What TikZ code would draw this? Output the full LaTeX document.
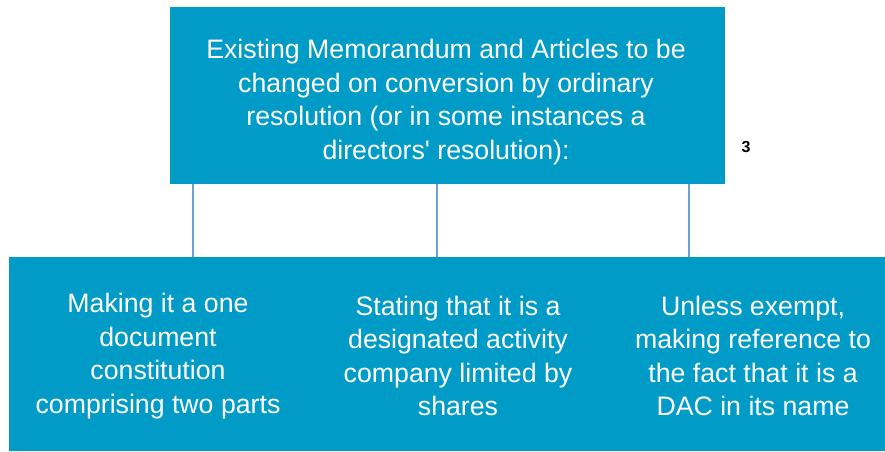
\documentclass[tikz,border=0pt]{standalone}
\usepackage{fontspec}
\setmainfont{Liberation Sans}[Ligatures=TeXOff]
\definecolor{boxblue}{RGB}{0,155,199}
\definecolor{linkblue}{RGB}{110,160,215}
\begin{document}
\begin{tikzpicture}[x=1pt,y=1pt,
  panel/.style={fill=boxblue, draw=none, inner sep=0pt},
  label/.style={text=white, align=center, font=\fontsize{26.7}{33.6}\selectfont},
  link/.style={draw=linkblue, line width=2pt}]
\useasboundingbox (0,0) rectangle (885,-451);
% heading box
\node[panel, minimum width=555, minimum height=177] (top) at (447.5,-95.5) {};
\node[label] (toptext) at (446,-102)
  {Existing Memorandum and Articles to be\\changed on conversion by ordinary\\resolution (or in some instances a\\directors' resolution):};
% three item boxes forming one band
\node[panel, minimum width=297, minimum height=194, anchor=north west] (b1) at (9,-257) {};
\node[panel, minimum width=297, minimum height=194, anchor=north west] (b2) at (306,-257) {};
\node[panel, minimum width=297, minimum height=194, anchor=north west] (b3) at (603,-257) {};
\node[label] (t1) at (158,-356)
  {Making it a one\\document\\constitution\\comprising two parts};
\node[label] (t2) at (458,-356)
  {Stating that it is a\\designated activity\\company limited by\\shares};
\node[label] (t3) at (753,-356)
  {Unless exempt,\\making reference to\\the fact that it is a\\DAC in its name};
% connectors
\coordinate (c1) at (193,0);
\coordinate (c2) at (437,0);
\coordinate (c3) at (689,0);
\draw[link] (top.south -| c1) -- (b1.north -| c1);
\draw[link] (top.south -| c2) -- (b2.north -| c2);
\draw[link] (top.south -| c3) -- (b3.north -| c3);
% note mark
\node[font=\bfseries\fontsize{16}{18}\selectfont] (note) at (746,-147) {3};
\end{tikzpicture}
\end{document}
